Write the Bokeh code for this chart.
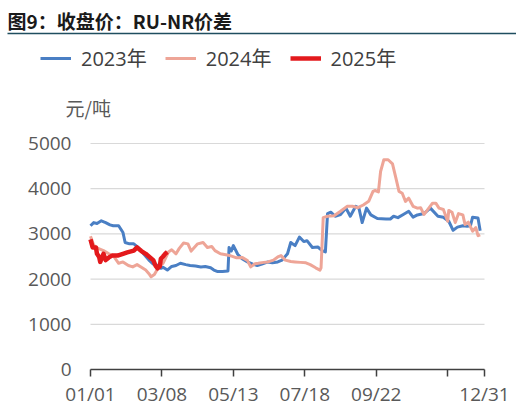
import pandas as pd
from bokeh.plotting import figure
from bokeh.models import (Range1d, FixedTicker, Legend, LegendItem, Label,
                          BoxAnnotation)
from bokeh.embed import file_html
from bokeh.resources import INLINE

# 日期轴：以 01/01 起算的天数
tick_dates = ["01/01", "03/08", "05/13", "07/18", "09/22", "11/27", "12/31"]
tick_labels = ["01/01", "03/08", "05/13", "07/18", "09/22", "", "12/31"]

# 2023年
day_2023 = [0, 3, 6, 10, 14, 18, 21, 26, 30, 32, 36, 40, 44, 49, 54, 58, 62, 65,
            67, 71, 75, 79, 83, 88, 92, 97, 102, 106, 111, 114, 117, 122, 127,
            128, 130, 132, 136, 140, 145, 150, 154, 159, 164, 168, 173, 177, 182,
            185, 189, 193, 197, 200, 205, 210, 214, 217, 219, 222, 226, 231, 236,
            240, 245, 248, 251, 255, 259, 265, 273, 277, 280, 284, 289, 294, 298,
            302, 308, 314, 321, 326, 331, 335, 339, 344, 348, 351, 353, 358, 360]
val_2023 = [3180, 3250, 3230, 3290, 3250, 3200, 3180, 3180, 3030, 2810, 2780,
            2780, 2700, 2560, 2420, 2330, 2300, 2240, 2260, 2200, 2280, 2300,
            2350, 2320, 2300, 2290, 2270, 2280, 2250, 2200, 2170, 2170, 2180,
            2700, 2620, 2740, 2550, 2450, 2380, 2330, 2300, 2340, 2380, 2360,
            2380, 2420, 2560, 2810, 2740, 2930, 2830, 2850, 2700, 2710, 2630,
            2600, 3450, 3480, 3390, 3430, 3570, 3390, 3610, 3570, 3250, 3570,
            3420, 3340, 3330, 3330, 3390, 3360, 3430, 3500, 3370, 3420, 3450,
            3570, 3390, 3370, 3280, 3080, 3150, 3180, 3170, 3180, 3370, 3350,
            3070]

# 2024年
day_2024 = [0, 3, 7, 12, 17, 21, 26, 30, 35, 39, 43, 47, 51, 54, 56, 59, 63, 67,
            69, 72, 75, 79, 82, 86, 90, 93, 99, 104, 108, 112, 115, 120, 125,
            129, 135, 140, 145, 148, 152, 155, 160, 164, 169, 173, 176, 180, 185,
            189, 194, 199, 203, 208, 212, 213, 215, 219, 225, 231, 237, 242, 247,
            252, 257, 261, 263, 266, 268, 271, 275, 279, 282, 285, 288, 291, 294,
            298, 302, 305, 308, 311, 316, 319, 322, 326, 330, 331, 334, 337, 340,
            344, 346, 349, 353, 356, 358, 360]
val_2024 = [2950, 2750, 2680, 2630, 2560, 2520, 2350, 2380, 2300, 2270, 2320,
            2260, 2200, 2120, 2050, 2100, 2270, 2350, 2450, 2600, 2650, 2560,
            2680, 2800, 2780, 2620, 2780, 2810, 2700, 2720, 2630, 2560, 2540,
            2520, 2470, 2480, 2410, 2270, 2340, 2350, 2370, 2380, 2420, 2490,
            2520, 2420, 2390, 2380, 2370, 2360, 2320, 2250, 2200, 2250, 3360,
            3390, 3400, 3500, 3610, 3610, 3580, 3640, 3720, 3940, 3960, 3930,
            4380, 4640, 4640, 4550, 4250, 3940, 3900, 3720, 3790, 3610, 3570,
            3580, 3430, 3520, 3680, 3680, 3570, 3540, 3280, 3520, 3480, 3250,
            3450, 3420, 3210, 3260, 3060, 3140, 2960, 2980]

# 2025年
day_2025 = [0, 2, 5, 6, 8, 9, 12, 14, 17, 20, 25, 30, 34, 40, 43, 47, 51, 55,
            58, 60, 62, 64, 65, 67, 69, 71]
val_2025 = [2880, 2700, 2700, 2560, 2490, 2380, 2560, 2420, 2480, 2520, 2520,
            2560, 2590, 2630, 2700, 2620, 2560, 2480, 2420, 2300, 2240, 2280,
            2450, 2500, 2560, 2600]

y_ticks = [0, 1000, 2000, 3000, 4000, 5000]

tick_days = [pd.Timestamp("2023/" + d).dayofyear - 1 for d in tick_dates]

num_font = "Open Sans, Noto Sans CJK SC"
cjk_font = "Noto Sans CJK SC"
grey = "#595959"

# 绘图区占满整张画布，两条坐标轴用 fixed_location 放在 0 处
W, H = 516, 418
left_px, right_px, zero_px, top_px = 90, 484, 369, 143
day_per_px = 364 / (right_px - left_px)
val_per_px = 5000 / (zero_px - top_px)

p = figure(width=W, height=H, output_backend="svg", toolbar_location=None,
           x_range=Range1d(-left_px * day_per_px, (W - left_px) * day_per_px),
           y_range=Range1d(-(H - zero_px) * val_per_px, zero_px * val_per_px),
           min_border=0)
p.outline_line_color = None
p.background_fill_color = "white"
p.border_fill_color = "white"
p.grid.grid_line_color = None

# 横向网格线，只画在 01/01 到 12/31 之间
p.segment(x0=0, x1=364, y0=y_ticks[1:], y1=y_ticks[1:],
          line_color="#d9d9d9", line_width=1.2)

r1 = p.line(day_2023, val_2023, line_color="#4a7fc4", line_width=3,
            line_join="round")
r2 = p.line(day_2024, val_2024, line_color="#eea597", line_width=3,
            line_join="round")
r3 = p.line(day_2025, val_2025, line_color="#e3191c", line_width=4.5,
            line_join="round")

# x 轴
p.xaxis.fixed_location = 0
p.xaxis.ticker = FixedTicker(ticks=tick_days)
p.xaxis.bounds = (0, 364)
p.xaxis.major_label_overrides = {d: t for d, t in zip(tick_days, tick_labels)}
p.xaxis.axis_line_color = "#404040"
p.xaxis.axis_line_width = 1.5
p.xaxis.major_tick_line_color = "#404040"
p.xaxis.major_tick_line_width = 1.5
p.xaxis.major_tick_in = 0
p.xaxis.major_tick_out = 7
p.xaxis.minor_tick_line_color = None
p.xaxis.major_label_standoff = 4
p.xaxis.major_label_text_font = num_font
p.xaxis.major_label_text_font_size = "19px"
p.xaxis.major_label_text_color = grey

# y 轴
p.yaxis.fixed_location = 0
p.yaxis.ticker = FixedTicker(ticks=y_ticks)
p.yaxis.bounds = (0, 5000)
p.yaxis.axis_line_color = None
p.yaxis.major_tick_line_color = None
p.yaxis.minor_tick_line_color = None
p.yaxis.major_label_standoff = 13
p.yaxis.major_label_text_font = num_font
p.yaxis.major_label_text_font_size = "19px"
p.yaxis.major_label_text_color = grey

legend = Legend(items=[LegendItem(label="2023年", renderers=[r1]),
                       LegendItem(label="2024年", renderers=[r2]),
                       LegendItem(label="2025年", renderers=[r3])],
                orientation="horizontal", location=(40, H - 72),
                glyph_width=31, glyph_height=20, label_standoff=10,
                spacing=18, padding=0, margin=0,
                border_line_color=None, background_fill_alpha=0,
                label_text_font=num_font, label_text_font_size="20px",
                label_text_color="#404040", label_height=20)
p.add_layout(legend)

p.add_layout(Label(x=7, y=H - 20, x_units="screen", y_units="screen",
                   text="图9：收盘价：RU-NR价差", text_font=cjk_font,
                   text_font_size="19px", text_font_style="bold",
                   text_color="#1a1a1a", text_baseline="middle"))
p.add_layout(BoxAnnotation(left=7, right=W, bottom=H - 33.8, top=H - 32.2,
                           left_units="screen", right_units="screen",
                           bottom_units="screen", top_units="screen",
                           fill_color="#1f4e5f", fill_alpha=1,
                           line_color=None))
p.add_layout(Label(x=65, y=H - 107, x_units="screen", y_units="screen",
                   text="元/吨", text_font=cjk_font, text_font_size="19px",
                   text_color=grey, text_baseline="middle"))

open("out.html", "w").write(file_html(p, INLINE))
